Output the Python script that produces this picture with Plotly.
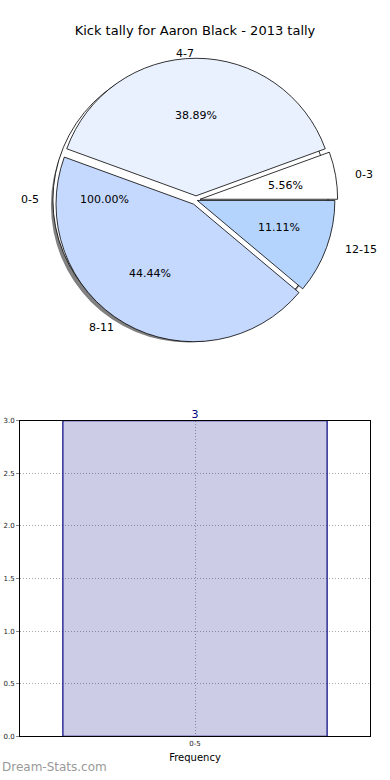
import plotly.graph_objects as go
import math

# ---- data ----
title_text = "Kick tally for Aaron Black - 2013 tally"
pie_labels = ["0-3", "4-7", "8-11", "12-15"]
pie_values = [1, 7, 8, 2]
pie_colors = ["#ffffff", "#e9f0fe", "#c5d8fd", "#b4d4fe"]
pie_pull = [0.03, 0.03, 0.035, 0.01]

full_label = ["0-5"]
full_value = [3]

bar_categories = ["0-5"]
bar_values = [3]
y_ticks = [0.0, 0.5, 1.0, 1.5, 2.0, 2.5, 3.0]

W, H = 390, 780
FONT = "DejaVu Sans"

# pie geometry (pixels)
cx, cy, r = 196, 198, 139
rx, ry = 145, 135          # percentage placement radii (matplotlib-like ellipse)
lrx, lry = 141, 131        # label placement radii
start_deg = 0              # first slice starts at 3 o'clock, counter-clockwise
maxpull = max(pie_pull)
half = r * (1 + maxpull)


def dom(cx_, cy_, h_):
    return dict(x=[(cx_ - h_) / W, (cx_ + h_) / W],
                y=[1 - (cy_ + h_) / H, 1 - (cy_ - h_) / H])


fig = go.Figure()

# shadow of the full pie
fig.add_trace(go.Pie(
    labels=full_label, values=full_value, domain=dom(cx - 7.5, cy + 5, r),
    marker=dict(colors=["#808080"], line=dict(width=0)),
    textinfo="none", sort=False, showlegend=False, hoverinfo="skip"))

# full 0-5 pie (white)
fig.add_trace(go.Pie(
    labels=full_label, values=full_value, domain=dom(cx - 5.5, cy, r),
    marker=dict(colors=["#ffffff"], line=dict(color="#000000", width=0.8)),
    textinfo="none", sort=False, showlegend=False, hoverinfo="label+percent"))

# exploded slices
fig.add_trace(go.Pie(
    labels=pie_labels, values=pie_values, domain=dom(cx, cy, half),
    marker=dict(colors=pie_colors, line=dict(color="#000000", width=0.8)),
    pull=pie_pull, sort=False, direction="counterclockwise",
    rotation=90 - 360 * pie_values[0] / sum(pie_values) + start_deg,
    textinfo="none", showlegend=False, hoverinfo="label+percent"))


def pie_texts(labels, values, pulls):
    total = sum(values)
    acc = 0.0
    for lab, v, p in zip(labels, values, pulls):
        a0 = start_deg + 360 * acc / total
        acc += v
        a1 = start_deg + 360 * acc / total
        th = math.radians((a0 + a1) / 2)
        c, s = math.cos(th), math.sin(th)
        ox, oy = p * r * c, p * r * s
        # outer label
        lx = cx + ox + 1.1 * lrx * c
        ly = cy - oy - 1.1 * lry * s
        anchor = "left" if c > 0.1 else "right"
        fig.add_annotation(x=lx / W, y=1 - ly / H, xref="paper", yref="paper",
                           xanchor=anchor, yanchor="middle", text=lab, showarrow=False,
                           font=dict(family=FONT, size=11, color="#000"))
        # percentage
        px_ = cx + ox + 0.6 * rx * c
        py_ = cy - oy - 0.6 * ry * s
        fig.add_annotation(x=px_ / W, y=1 - py_ / H, xref="paper", yref="paper",
                           xanchor="center", yanchor="middle", text=f"{100 * v / total:.2f}%",
                           showarrow=False, font=dict(family=FONT, size=11, color="#000"))


pie_texts(pie_labels, pie_values, pie_pull)
# the single-slice 0-5 pie (its mid angle is 180 deg)
fig.add_annotation(x=(cx - 1.1 * lrx) / W, y=1 - cy / H, xref="paper", yref="paper",
                   xanchor="right", yanchor="middle", text=full_label[0], showarrow=False,
                   font=dict(family=FONT, size=11, color="#000"))
fig.add_annotation(x=(cx - 0.63 * rx) / W, y=1 - cy / H, xref="paper", yref="paper",
                   xanchor="center", yanchor="middle",
                   text=f"{100 * full_value[0] / sum(full_value):.2f}%", showarrow=False,
                   font=dict(family=FONT, size=11, color="#000"))

# bar chart
fig.add_trace(go.Bar(
    x=bar_categories, y=bar_values, width=0.755,
    marker=dict(color="rgba(0,0,128,0.2)", line=dict(color="#000080", width=1.2)),
    showlegend=False, hoverinfo="x+y"))
fig.add_trace(go.Scatter(
    x=bar_categories, y=bar_values, mode="text", text=[str(v) for v in bar_values],
    textposition="top center", textfont=dict(family=FONT, size=11, color="#000080"),
    cliponaxis=False, showlegend=False, hoverinfo="skip"))

grid = dict(showgrid=True, gridcolor="#a8a8a8", griddash="1px,2px", gridwidth=1)

fig.update_layout(
    width=W, height=H, margin=dict(l=0, r=0, t=0, b=0),
    paper_bgcolor="#ffffff", plot_bgcolor="#ffffff",
    font=dict(family=FONT, color="#000000"),
    title=dict(text=title_text, x=0.5, xanchor="center", y=1 - 30 / H, yanchor="middle",
               font=dict(family=FONT, size=13, color="#000000")),
    xaxis=dict(domain=[20 / W, 370 / W], range=[-0.5, 0.5], type="category",
               showline=True, mirror=True, linecolor="#000000", linewidth=1,
               ticks="", tickfont=dict(family=FONT, size=7, color="#222"),
               title=dict(text="Frequency", font=dict(family=FONT, size=10, color="#000"), standoff=7),
               zeroline=False, fixedrange=True, **grid),
    yaxis=dict(domain=[1 - 740 / H, 1 - 421 / H], range=[0, 3],
               tickvals=y_ticks, ticktext=[f"{v:.1f}" for v in y_ticks],
               showline=True, mirror=True, linecolor="#000000", linewidth=1,
               ticks="outside", ticklen=3, tickcolor="#888",
               tickfont=dict(family=FONT, size=7, color="#222"),
               zeroline=False, fixedrange=True, **grid),
)

fig.add_annotation(x=0, y=1 - 771 / H, xref="paper", yref="paper", xanchor="left", yanchor="middle",
                   text="Dream-Stats.com", showarrow=False,
                   font=dict(family=FONT, size=12, color="#999999"))

fig.write_html("out.html", config={"displayModeBar": False},
               post_script="document.body.style.margin='0';document.body.style.overflow='hidden';")
